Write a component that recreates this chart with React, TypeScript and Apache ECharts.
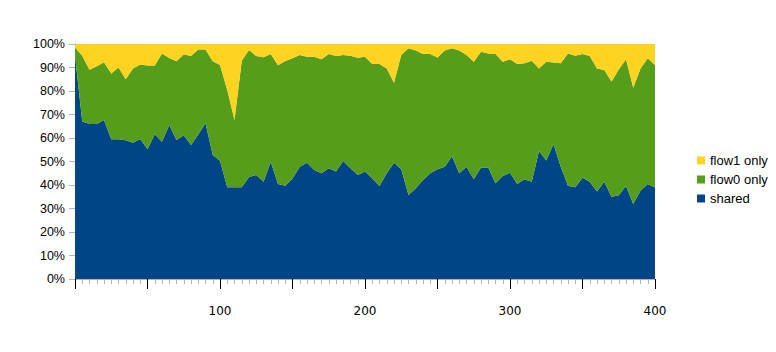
import React, { useEffect, useRef } from "react";
import * as echarts from "echarts";

const xValues = [
  0, 5, 10, 15, 20, 25, 30, 35, 40, 45, 50, 55, 60, 65, 70, 75, 80, 85, 90, 95,
  100, 105, 110, 115, 120, 125, 130, 135, 140, 145, 150, 155, 160, 165, 170, 175, 180, 185, 190, 195,
  200, 205, 210, 215, 220, 225, 230, 235, 240, 245, 250, 255, 260, 265, 270, 275, 280, 285, 290, 295,
  300, 305, 310, 315, 320, 325, 330, 335, 340, 345, 350, 355, 360, 365, 370, 375, 380, 385, 390, 395,
  400,
];

const shared = [
  95, 67, 66, 66, 67.7, 59.5, 59.5, 59, 58, 59.6, 55.2, 61.6, 58.4, 65.5, 59.2, 61.2, 57, 61.5, 66.3, 52.8,
  50.3, 39, 39, 39, 43.4, 44.3, 41.4, 49.9, 40.4, 39.7, 42.8, 47.8, 49.5, 46.4, 45, 47.1, 45.7, 50.2, 47.1, 44.3,
  45.7, 42.8, 39.6, 45, 49.5, 46.7, 35.7, 38.6, 42.1, 45, 46.7, 47.8, 52.2, 45, 47.8, 42.4, 47.5, 47.5, 40.7, 43.8,
  45.2, 40.4, 42.4, 41.4, 54.5, 50.4, 57.4, 47.8, 39.7, 39, 43.1, 41.4, 37.2, 41.4, 35, 35.6, 39.6, 31.9, 37.6, 40.4,
  38.9,
];

const flow0Only = [
  3.5, 28, 23, 24.5, 24.5, 28, 30.5, 26, 31.6, 31.7, 35.6, 29.2, 37.6, 28.5, 33.5, 34.4, 37.9, 36.2, 31.4, 39.9,
  40.8, 41.4, 28.7, 53.9, 54, 50.6, 53, 45.8, 50.6, 53.1, 51.1, 47.5, 45.1, 48.2, 48.5, 48.6, 49.2, 45.1, 47.9, 49.8,
  48.9, 48.7, 51.9, 44.6, 34, 48.6, 62.5, 58.6, 53.6, 50.7, 47.6, 49.4, 46, 52.2, 47.5, 50.1, 49.2, 48.5, 55, 48.7,
  48.3, 51.1, 49.4, 51.5, 35.1, 42.1, 34.7, 44, 56.3, 56, 52.6, 53.5, 52.4, 47.5, 49, 53.6, 53.9, 49.5, 52, 53.5,
  52.2,
];

const flow1Only = [
  1.5, 5, 11, 9.5, 7.8, 12.5, 10, 15, 10.4, 8.7, 9.2, 9.2, 4, 6, 7.3, 4.4, 5.1, 2.3, 2.3, 7.3,
  8.9, 19.6, 32.3, 7.1, 2.6, 5.1, 5.6, 4.3, 9, 7.2, 6.1, 4.7, 5.4, 5.4, 6.5, 4.3, 5.1, 4.7, 5, 5.9,
  5.4, 8.5, 8.5, 10.4, 16.5, 4.7, 1.8, 2.8, 4.3, 4.3, 5.7, 2.8, 1.8, 2.8, 4.7, 7.5, 3.3, 4, 4.3, 7.5,
  6.5, 8.5, 8.2, 7.1, 10.4, 7.5, 7.9, 8.2, 4, 5, 4.3, 5.1, 10.4, 11.1, 16, 10.8, 6.5, 18.6, 10.4, 6.1,
  8.9,
];

const seriesNames = ["shared", "flow0 only", "flow1 only"];
const legendOrder = ["flow1 only", "flow0 only", "shared"];
const colors = ["#004586", "#579d1c", "#ffd320"];

export default function App() {
  const ref = useRef<HTMLDivElement>(null);
  useEffect(() => {
    if (!ref.current) return;
    const chart = echarts.init(ref.current, null, { renderer: "svg" });
    const seriesData = [shared, flow0Only, flow1Only];
    chart.setOption({
      animation: false,
      backgroundColor: "#ffffff",
      grid: { left: 75, right: 121, top: 44, bottom: 73 },
      legend: {
        orient: "vertical",
        left: 692,
        top: 149,
        data: legendOrder,
        icon: "rect",
        itemWidth: 8,
        itemHeight: 8,
        itemGap: 6,
        textStyle: { fontFamily: "Liberation Sans", fontSize: 13, color: "#000", lineHeight: 13 },
      },
      xAxis: [
        {
          type: "value",
          min: 0,
          max: 400,
          interval: 50,
          z: 2,
          axisLine: { show: true, lineStyle: { color: "#b3b3b3", width: 1 } },
          axisTick: { show: true, length: 10, lineStyle: { color: "#000", width: 1 } },
          splitLine: { show: false },
          axisLabel: {
            margin: 26,
            fontFamily: "DejaVu Sans",
            fontSize: 12,
            color: "#000",
            formatter: (v: number) => (v > 0 && v % 100 === 0 ? String(v) : ""),
          },
        },
        {
          type: "value",
          position: "bottom",
          min: 0,
          max: 400,
          interval: 5,
          z: 1,
          axisLine: { show: false },
          axisTick: { show: true, length: 5, lineStyle: { color: "#b3b3b3", width: 1 } },
          axisLabel: { show: false },
          splitLine: { show: false },
        },
      ],
      yAxis: [
        {
          type: "value",
          min: 0,
          max: 100,
          interval: 10,
          axisLine: { show: true, lineStyle: { color: "#b3b3b3", width: 1 } },
          axisTick: { show: true, length: 6, lineStyle: { color: "#b3b3b3", width: 1 } },
          splitLine: { show: false },
          axisLabel: {
            margin: 10,
            fontFamily: "Liberation Sans",
            fontSize: 12.5,
            color: "#000",
            formatter: "{value}%",
          },
        },
        {
          type: "value",
          position: "right",
          min: 0,
          max: 100,
          axisLine: { show: true, lineStyle: { color: "#b3b3b3", width: 1 } },
          axisTick: { show: false },
          axisLabel: { show: false },
          splitLine: { show: false },
        },
      ],
      series: seriesNames.map((name, i) => ({
        name,
        type: "line",
        stack: "total",
        xAxisIndex: 0,
        yAxisIndex: 0,
        symbol: "none",
        color: colors[i],
        lineStyle: { width: 0 },
        areaStyle: { color: colors[i], opacity: 1 },
        // value first so that the stack is applied to the y value
        encode: { x: 1, y: 0 },
        data: xValues.map((x, j) => [seriesData[i][j], x]),
      })),
    });
    return () => chart.dispose();
  }, []);
  return (
    <div
      ref={ref}
      style={{ position: "fixed", left: 0, top: 0, width: 776, height: 352, background: "#fff" }}
    />
  );
}
